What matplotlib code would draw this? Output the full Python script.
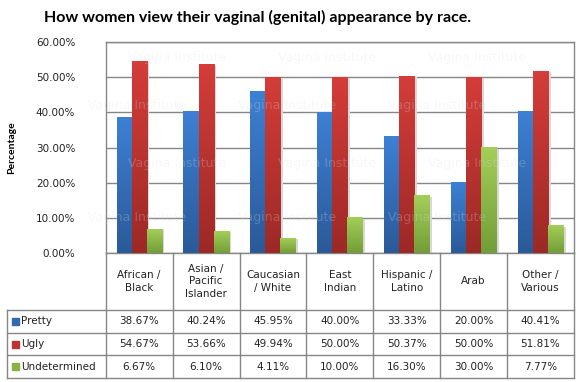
import numpy as np
import matplotlib
matplotlib.use("Agg")
import matplotlib.pyplot as plt
from matplotlib.transforms import blended_transform_factory
from matplotlib.colors import to_rgb

categories = ["African /\nBlack", "Asian /\nPacific\nIslander", "Caucasian\n/ White",
              "East\nIndian", "Hispanic /\nLatino", "Arab", "Other /\nVarious"]
series_names = ["Pretty", "Ugly", "Undetermined"]
pretty = [38.67, 40.24, 45.95, 40.00, 33.33, 20.00, 40.41]
ugly = [54.67, 53.66, 49.94, 50.00, 50.37, 50.00, 51.81]
undetermined = [6.67, 6.10, 4.11, 10.00, 16.30, 30.00, 7.77]
yticks = [0, 10, 20, 30, 40, 50, 60]

W, H = 579, 382
fig = plt.figure(figsize=(W / 100, H / 100), dpi=100)
fig.patch.set_facecolor("white")

L, R, T, B = 105.7, 574.0, 42.3, 252.7
ax = fig.add_axes([L / W, 1 - B / H, (R - L) / W, (B - T) / H])

tops = ["#3d80d4", "#d43d39", "#a3ce58"]
bots = ["#2b5a98", "#9c2926", "#739e38"]
legcols = ["#3468b0", "#bb3431", "#89b242"]
data = [pretty, ugly, undetermined]
n = len(categories)
x = np.arange(n)
bw = 0.225
for si, vals in enumerate(data):
    bars = ax.bar(x + (si - 1) * bw, vals, bw, color=legcols[si], zorder=2)
    c1 = np.array(to_rgb(tops[si]))
    c2 = np.array(to_rgb(bots[si]))
    for p in bars:
        h = p.get_height()
        t = np.linspace(0, 1, 64)[:, None]
        grad = (c1[None, :] * (1 - t) + c2[None, :] * t)[:, None, :]
        ax.imshow(grad, extent=[p.get_x(), p.get_x() + p.get_width(), 0, h],
                  aspect="auto", origin="upper", zorder=3, interpolation="bilinear")
        ax.bar(p.get_x() + p.get_width() + 0.012, h - 0.3, 0.025, bottom=0,
               align="edge", color="#d8d8d8", zorder=1.5, linewidth=0)

ax.set_xlim(-0.5, n - 0.5)
ax.set_ylim(0, 60)
ax.set_yticks(yticks)
ax.set_yticklabels([f"{v:.2f}%" for v in yticks], fontsize=7.5, color="#222222")
ax.tick_params(axis="y", length=0, pad=22)
ax.set_xticks([])
for y in yticks:
    ax.axhline(y, color="#868686", lw=1, zorder=1)
for s in ax.spines.values():
    s.set_color("#868686")
    s.set_linewidth(1)
ax.set_facecolor("white")

fig.text(12 / W, 1 - 148 / H, "Percentage", rotation=90, ha="center", va="center",
         fontsize=7.5, fontweight="bold", family="Lato")
fig.text(258 / W, 1 - 17 / H, "How women view their vaginal (genital) appearance by race.",
         ha="center", va="center", fontsize=11.5, fontweight="bold", family="Lato")

# table
tr = blended_transform_factory(ax.transData, fig.transFigure)
ff = fig.transFigure
gc = "#868686"
yt = 1 - B / H
rows_y = [310, 332.7, 355.3, 378]
for i in range(n + 1):
    ax.plot([i - 0.5, i - 0.5], [yt, 1 - rows_y[-1] / H], transform=tr, color=gc,
            lw=1, clip_on=False)
for yy in rows_y:
    fig.add_artist(plt.Line2D([7.5 / W, R / W], [1 - yy / H, 1 - yy / H], color=gc, lw=1))
fig.add_artist(plt.Line2D([7.5 / W, 7.5 / W], [1 - rows_y[0] / H, 1 - rows_y[-1] / H],
                          color=gc, lw=1))
for i, c in enumerate(categories):
    ax.text(i, 1 - (B + rows_y[0]) / 2 / H, c, transform=tr, ha="center", va="center",
            fontsize=7.5, color="#222222", linespacing=1.35)
for si, vals in enumerate(data):
    yc = 1 - (rows_y[si] + rows_y[si + 1]) / 2 / H
    fig.add_artist(plt.Rectangle((11.5 / W, yc - 3.5 / H), 7 / W, 7 / H,
                                 color=legcols[si], transform=ff))
    fig.text(21.5 / W, yc, series_names[si], ha="left", va="center", fontsize=7.5,
             color="#222222")
    for i, v in enumerate(vals):
        ax.text(i, yc, f"{v:.2f}%", transform=tr, ha="center", va="center",
                fontsize=7.5, color="#222222")

# faint watermark (only fully visible copies, kept in the chart region)
for r, yy in enumerate([57, 105, 163, 217]):
    off = 128 if r % 2 == 0 else 88
    for k in range(0, 3):
        xx = off + k * 150
        if xx + 95 < W:
            fig.text(xx / W, 1 - yy / H, "Vagina Institute", ha="left", va="center",
                     fontsize=9, color="#e0e0e0", alpha=0.25, zorder=10)

fig.savefig("out.png", dpi=100)
